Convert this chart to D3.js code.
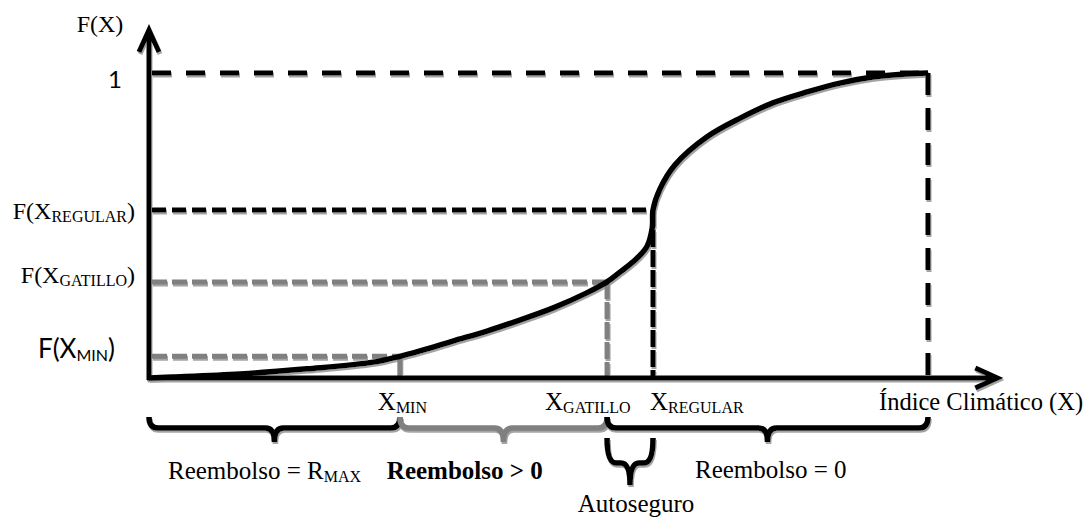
<!DOCTYPE html>
<html>
<head>
<meta charset="utf-8">
<script src="https://cdn.jsdelivr.net/npm/d3@7"></script>
<style>
    body { margin: 0; background: #fff; }
    svg { display: block; }
    .serif { font-family: "Liberation Serif", "DejaVu Serif", serif; fill: #000; }
    .sans { font-family: Lato, "Open Sans", sans-serif; fill: #000; }
</style>
</head>
<body>
<svg width="1090" height="519"></svg>
<script>
// cumulative distribution (x in % of index range, F in 0..1)
const curveX = [0, 3.1, 11.7, 20.3, 28.8, 32.2, 34.8, 39.0, 43.4, 47.6, 51.9, 56.2, 58.8, 60.5, 62.1, 63.9, 64.6, 64.7, 65.6, 67.5, 71.6, 75.9, 80.1, 84.5, 88.7, 92.9, 97.3, 100];
const curveF = [0, 0.003, 0.013, 0.030, 0.052, 0.071, 0.089, 0.121, 0.154, 0.190, 0.230, 0.279, 0.315, 0.348, 0.380, 0.430, 0.492, 0.551, 0.620, 0.698, 0.790, 0.852, 0.902, 0.938, 0.967, 0.987, 0.997, 1];

// key thresholds
const keyNames = ['MIN', 'GATILLO', 'REGULAR'];
const keyX = [32.2, 58.8, 64.7];
const keyF = [0.071, 0.315, 0.551];
const xEnd = 100;
const fEnd = 1;

// axis extents (arrow tips)
const xAxisMax = 108.9;
const yAxisMax = 1.141;

const width = 1090;
const height = 519;

const x = d3.scaleLinear().domain([0, 100]).range([149, 928]);
const y = d3.scaleLinear().domain([0, 1]).range([378, 73]);

const GRAY = '#808080';
const svg = d3.select('svg');

svg.append('defs')
    .append('filter')
    .attr('id', 'shadow')
    .attr('x', '-5%').attr('y', '-5%').attr('width', '110%').attr('height', '120%')
    .append('feDropShadow')
    .attr('dx', 1)
    .attr('dy', 2)
    .attr('stdDeviation', 0.4)
    .attr('flood-color', '#9a9a9a')
    .attr('flood-opacity', 0.9);

const lines = svg.append('g').attr('filter', 'url(#shadow)');

// guide lines -------------------------------------------------------
const guides = [
    // F = 1 and right end
    {x1: 0, y1: fEnd, x2: xEnd, y2: fEnd, c: '#000', dash: '19,15'},
    {x1: xEnd, y1: fEnd, x2: xEnd, y2: 0, c: '#000', dash: '22,13'},
    // regular
    {x1: 0, y1: keyF[2], x2: keyX[2], y2: keyF[2], c: '#000', dash: '14,6'},
    {x1: keyX[2], y1: keyF[2], x2: keyX[2], y2: 0, c: '#000', dash: '17,3'},
    // gatillo
    {x1: 0, y1: keyF[1], x2: keyX[1], y2: keyF[1], c: GRAY, dash: '15,5'},
    {x1: keyX[1], y1: keyF[1], x2: keyX[1], y2: 0, c: GRAY, dash: '17,3'},
    // min
    {x1: 0, y1: keyF[0], x2: keyX[0], y2: keyF[0], c: GRAY, dash: '15,5'},
    {x1: keyX[0], y1: keyF[0], x2: keyX[0], y2: 0, c: GRAY, dash: null}
];

lines.selectAll('line.guide')
    .data(guides)
    .enter()
    .append('line')
    .classed('guide', true)
    .attr('x1', d => x(d.x1) + (d.x1 === 0 ? 3 : 0))
    .attr('y1', d => y(d.y1))
    .attr('x2', d => x(d.x2))
    .attr('y2', d => y(d.y2))
    .attr('stroke', d => d.c)
    .attr('stroke-width', 5)
    .attr('stroke-dasharray', d => d.dash);

// the curve
lines.append('path')
    .datum(d3.zip(curveX, curveF))
    .attr('fill', 'none')
    .attr('stroke', '#000')
    .attr('stroke-width', 5.5)
    .attr('d', d3.line()
        .x(d => x(d[0]))
        .y(d => y(d[1]))
        .curve(d3.curveCatmullRom.alpha(0.5)));

// axes with open arrow heads
const axisPath = d3.path();
axisPath.moveTo(x(0), y(0) + 2);
axisPath.lineTo(x(0), y(yAxisMax));
axisPath.moveTo(x(0) - 10, y(yAxisMax) + 22);
axisPath.lineTo(x(0), y(yAxisMax));
axisPath.lineTo(x(0) + 10, y(yAxisMax) + 22);
axisPath.moveTo(x(0) - 2, y(0));
axisPath.lineTo(x(xAxisMax), y(0));
axisPath.moveTo(x(xAxisMax) - 22, y(0) - 10);
axisPath.lineTo(x(xAxisMax), y(0));
axisPath.lineTo(x(xAxisMax) - 22, y(0) + 10);

lines.append('path')
    .attr('d', axisPath.toString())
    .attr('fill', 'none')
    .attr('stroke', '#000')
    .attr('stroke-width', 5);

// braces ------------------------------------------------------------
brace = (x1, x2, y0, yh, yt, r) => {
    const xm = (x1 + x2) / 2;
    const p = d3.path();
    p.moveTo(x1, y0);
    p.quadraticCurveTo(x1, yh, x1 + r, yh);
    p.lineTo(xm - r, yh);
    p.quadraticCurveTo(xm, yh, xm, yt);
    p.quadraticCurveTo(xm, yh, xm + r, yh);
    p.lineTo(x2 - r, yh);
    p.quadraticCurveTo(x2, yh, x2, y0);
    return p.toString();
};

const braces = [
    {a: 0, b: keyX[0], c: '#000', y0: 39, yh: 50, yt: 64},
    {a: keyX[0], b: keyX[1], c: GRAY, y0: 39, yh: 50, yt: 64},
    {a: keyX[1], b: xEnd, c: '#000', y0: 39, yh: 50, yt: 64},
    {a: keyX[1], b: keyX[2], c: '#000', y0: 60, yh: 85, yt: 107}
];

lines.selectAll('path.brace')
    .data(braces)
    .enter()
    .append('path')
    .classed('brace', true)
    .attr('d', d => brace(x(d.a), x(d.b), y(0) + d.y0, y(0) + d.yh, y(0) + d.yt, 9))
    .attr('fill', 'none')
    .attr('stroke', d => d.c)
    .attr('stroke-width', 5.5);

// labels ------------------------------------------------------------
subLabel = (sel, main, sub, tail, subSize) => {
    sel.append('tspan').text(main);
    sel.append('tspan').attr('font-size', subSize).attr('dy', 3).text(sub);
    if (tail) {
        sel.append('tspan').attr('dy', -3).text(tail);
    }
};

svg.append('text')
    .classed('serif', true)
    .attr('x', x(0) - 49)
    .attr('y', y(yAxisMax) + 2)
    .attr('text-anchor', 'middle')
    .attr('font-size', 24)
    .text('F(X)');

svg.append('text')
    .classed('sans', true)
    .attr('x', x(0) - 27)
    .attr('y', y(fEnd) + 15)
    .attr('text-anchor', 'end')
    .attr('font-size', 24)
    .text('1');

// left F(X_k) labels
const leftLabels = [
    {k: 2, cls: 'serif', dx: -14, dy: 9, size: 24, sub: 16},
    {k: 1, cls: 'serif', dx: -14, dy: 1, size: 24, sub: 16},
    {k: 0, cls: 'sans', dx: -34, dy: 2, size: 26, sub: 16}
];
leftLabels.forEach(l => {
    const t = svg.append('text')
        .classed(l.cls, true)
        .attr('x', x(0) + l.dx)
        .attr('y', y(keyF[l.k]) + l.dy)
        .attr('text-anchor', 'end')
        .attr('font-size', l.size);
    subLabel(t, 'F(X', keyNames[l.k], ')', l.sub);
});

// bottom X_k labels
const bottomDx = [-22, -62, -3];
keyNames.forEach((name, i) => {
    const t = svg.append('text')
        .classed('serif', true)
        .attr('x', x(keyX[i]) + bottomDx[i])
        .attr('y', y(0) + 32)
        .attr('font-size', 25);
    subLabel(t, 'X', name, null, 16);
});

svg.append('text')
    .classed('serif', true)
    .attr('x', x(xEnd) - 49)
    .attr('y', y(0) + 32)
    .attr('font-size', 24.5)
    .text('Índice Climático (X)');

// brace captions
const t1 = svg.append('text')
    .classed('serif', true)
    .attr('x', x(0) + 19)
    .attr('y', y(0) + 101)
    .attr('font-size', 25);
subLabel(t1, 'Reembolso = R', 'MAX', null, 16);

svg.append('text')
    .classed('serif', true)
    .attr('x', x(keyX[0]) - 13)
    .attr('y', y(0) + 101)
    .attr('font-size', 25)
    .attr('font-weight', 'bold')
    .text('Reembolso > 0');

svg.append('text')
    .classed('serif', true)
    .attr('x', x(keyX[2]) + 42)
    .attr('y', y(0) + 100)
    .attr('font-size', 25)
    .text('Reembolso = 0');

svg.append('text')
    .classed('serif', true)
    .attr('x', (x(keyX[1]) + x(keyX[2])) / 2 + 6)
    .attr('y', y(0) + 134)
    .attr('text-anchor', 'middle')
    .attr('font-size', 25)
    .text('Autoseguro');
</script>
</body>
</html>
